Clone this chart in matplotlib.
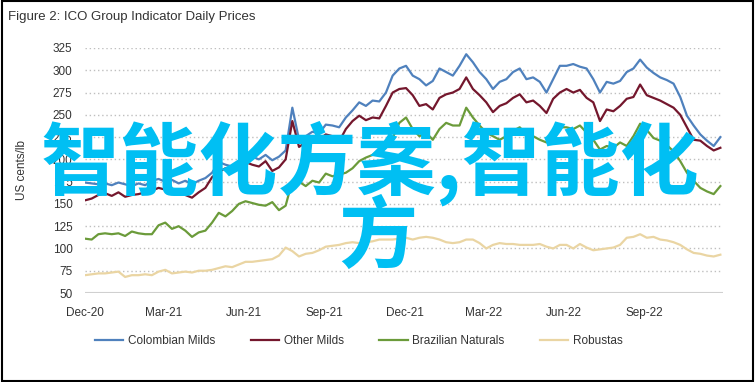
import matplotlib
matplotlib.use("Agg")
import matplotlib.pyplot as plt
import matplotlib.dates as mdates
import pandas as pd

plt.rcParams['font.family'] = ['Liberation Sans', 'DejaVu Sans']

# ~weekly samples, Dec 2020 - Nov 2022
dates = pd.date_range('2020-12-01', '2022-11-27', periods=96)

colombian = [174, 173, 172, 173, 171, 174, 172, 170, 173, 171, 176, 178, 175, 177, 173, 176,
             172, 176, 179, 185, 197, 194, 192, 196,
             206, 203, 200, 205, 199, 203, 210, 258, 222, 226, 231, 229, 239, 238, 236, 247,
             255, 264, 260, 266, 265, 275, 294, 302,
             305, 294, 290, 283, 288, 302, 298, 294, 305, 318, 309, 298, 290, 279, 287, 290,
             298, 302, 290, 292, 287, 275, 290, 305,
             305, 307, 304, 302, 290, 275, 287, 285, 288, 298, 302, 312, 303, 297, 292, 289,
             285, 270, 249, 238, 228, 221, 215, 225]

other_milds = [154, 156, 160, 162, 159, 163, 158, 160, 161, 163, 165, 168, 166, 167, 164, 160,
               157, 163, 168, 180, 186, 190, 188, 191,
               197, 194, 192, 198, 187, 191, 200, 243, 214, 219, 224, 222, 228, 226, 220, 234,
               243, 249, 244, 247, 246, 260, 275, 279,
               280, 272, 260, 262, 256, 269, 273, 275, 279, 292, 279, 272, 264, 253, 260, 263,
               269, 273, 264, 266, 260, 252, 268, 275,
               279, 275, 278, 269, 264, 243, 256, 254, 260, 268, 270, 284, 272, 269, 266, 262,
               258, 250, 236, 222, 221, 215, 210, 213]

brazilian = [111, 110, 116, 117, 116, 117, 114, 119, 117, 116, 116, 126, 129, 122, 125, 120,
             113, 118, 120, 129, 140, 136, 142, 150,
             153, 151, 149, 148, 152, 143, 148, 176, 175, 170, 176, 174, 184, 181, 183, 185,
             190, 198, 202, 205, 211, 215, 224, 241,
             247, 234, 226, 230, 222, 234, 241, 238, 238, 258, 247, 238, 230, 226, 222, 226,
             232, 236, 228, 226, 222, 219, 226, 236,
             236, 234, 238, 230, 222, 211, 215, 213, 219, 215, 226, 240, 233, 224, 221, 216,
             209, 198, 185, 176, 168, 164, 161, 170]

robustas = [70, 71, 72, 72, 73, 74, 68, 70, 70, 71, 70, 74, 76, 72, 73, 74,
            73, 75, 75, 76, 78, 80, 79, 82,
            85, 85, 86, 87, 88, 92, 101, 97, 91, 94, 95, 98, 102, 103, 104, 106,
            107, 106, 107, 108, 110, 110, 110, 111,
            112, 110, 112, 113, 112, 110, 107, 106, 107, 110, 110, 106, 100, 104, 106, 105,
            105, 104, 104, 104, 105, 102, 100, 104,
            104, 100, 105, 101, 98, 99, 100, 101, 104, 112, 113, 116, 112, 113, 110, 109,
            107, 104, 99, 95, 94, 92, 91, 93]

series_names = ['Colombian Milds', 'Other Milds', 'Brazilian Naturals', 'Robustas']
colors = ['#4F81BD', '#74172D', '#6B9B3A', '#EAD5A3']
yticks = list(range(50, 326, 25))

fig = plt.figure(figsize=(7.55, 3.82), dpi=100)
ax = fig.add_axes([85 / 755, 1 - 293 / 382, (723 - 85) / 755, (293 - 48) / 382])

for vals, name, c in zip([colombian, other_milds, brazilian, robustas], series_names, colors):
    ax.plot(dates, vals, color=c, lw=1.6, label=name, zorder=3)

ax.set_ylim(50, 325)
ax.set_xlim(pd.Timestamp('2020-12-01'), pd.Timestamp('2022-11-30'))
ax.set_yticks(yticks)
for v in yticks[1:]:
    ax.axhline(v, color='#BFBFBF', lw=1.0, ls=(0, (1, 2)), zorder=1)
ax.axhline(50, color='#D0D0D0', lw=1.5, zorder=2)

ax.xaxis.set_major_locator(mdates.MonthLocator(bymonth=[3, 6, 9, 12]))
ax.xaxis.set_major_formatter(mdates.DateFormatter('%b-%y'))
ax.tick_params(axis='both', length=0, labelsize=8.5, colors='#333333')
ax.tick_params(axis='y', pad=9)
ax.tick_params(axis='x', pad=10)
for s in ax.spines.values():
    s.set_visible(False)
ax.set_ylabel('US cents/lb', fontsize=8.5, color='#333333', labelpad=18)

fig.text(8 / 755, 1 - 17 / 382, 'Figure 2: ICO Group Indicator Daily Prices',
         fontsize=9.5, color='#333333', va='center', ha='left')

fig.legend(loc='center left', bbox_to_anchor=(95 / 755, 1 - 341 / 382), ncol=4,
           frameon=False, fontsize=8.5, handlelength=2.4, handletextpad=0.4,
           columnspacing=3.0, borderpad=0, borderaxespad=0, labelcolor='#333333')

# outer frame
fig.patches.append(plt.Rectangle((0.002, 0.003), 0.996, 0.994, transform=fig.transFigure,
                                 fill=False, edgecolor='black', lw=1.5))

# watermark overlay
wm = dict(color='#00BFF3', fontsize=57, fontweight='bold', ha='center', va='center',
          family=['Noto Sans CJK SC', 'DejaVu Sans'], zorder=10)
fig.text(370 / 755, 1 - 163 / 382, '智能化方案,智能化', **wm)
fig.text(378 / 755, 1 - 238 / 382, '方', **wm)

fig.savefig('out.png', dpi=100)
